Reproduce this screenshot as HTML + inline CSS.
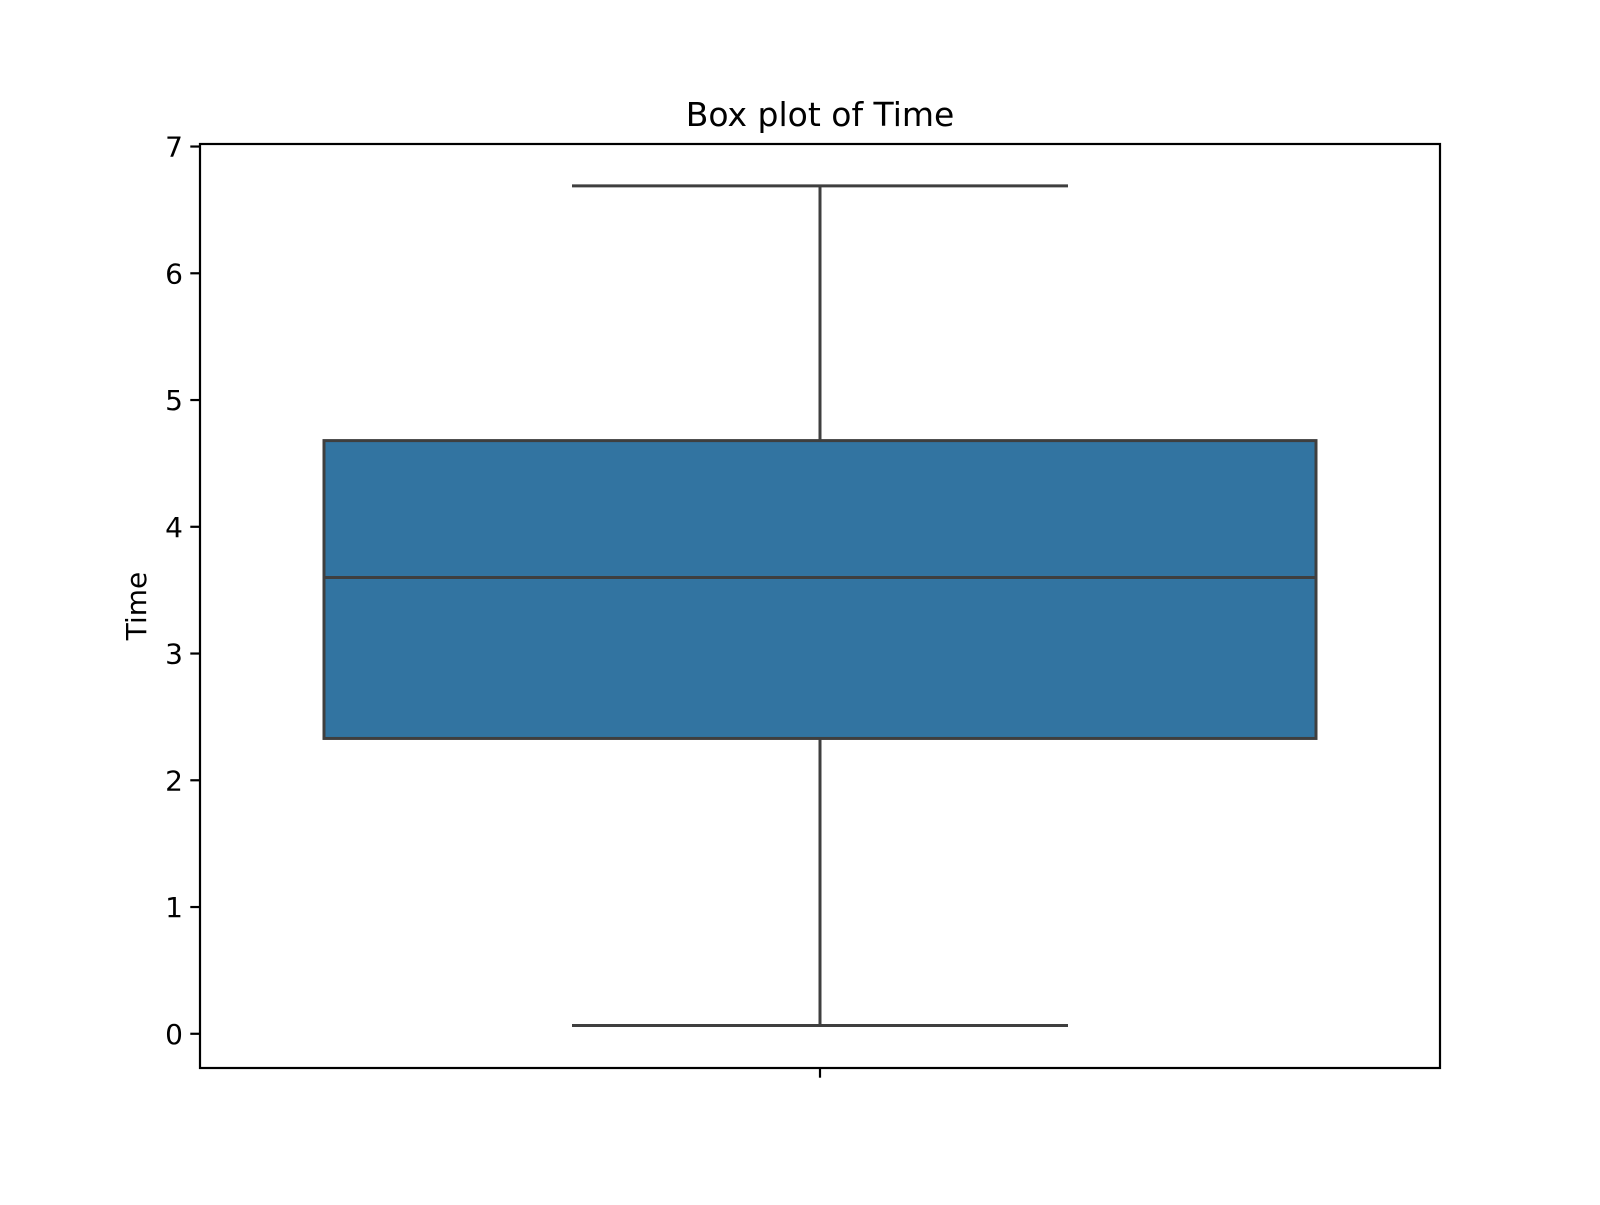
<!DOCTYPE html>
<html><head><meta charset="utf-8"><style>
html,body{margin:0;padding:0;background:#fff;}
svg text{font-family:"DejaVu Sans","Liberation Sans",sans-serif;fill:#000;}
</style></head><body>
<svg id="chart" width="1600" height="1200" viewBox="0 0 1600 1200" xmlns="http://www.w3.org/2000/svg">
<rect x="0" y="0" width="1600" height="1200" fill="#fff"/>
<text x="820" y="126" font-size="33" text-anchor="middle">Box plot of Time</text>
<text transform="translate(146,606) rotate(-90)" font-size="28" text-anchor="middle">Time</text>
<g id="ticks"></g>
<g id="marks"></g>
<rect x="200" y="144" width="1240" height="924" fill="none" stroke="#000" stroke-width="2.2"/>
</svg>
<script>
const yTicks = [0,1,2,3,4,5,6,7];
const boxStats = [{ whiskerLow: 0.065, q1: 2.33, median: 3.6, q3: 4.68, whiskerHigh: 6.69 }];
const categories = [""];

const L=200,R=1440,T=144,B=1068, yMin=-0.27, yMax=7.02;
const ys=v=>B-(v-yMin)/(yMax-yMin)*(B-T);
const xs=v=>L+(v+0.5)/1*(R-L);
const NS="http://www.w3.org/2000/svg";
function mk(tag,attrs,parent){const e=document.createElementNS(NS,tag);for(const k in attrs)e.setAttribute(k,attrs[k]);parent.appendChild(e);return e;}
const tg=document.getElementById('ticks'), mg=document.getElementById('marks');
yTicks.forEach(t=>{
  const y=ys(t);
  const l=mk('line',{x1:L-9.7,x2:L,y1:y,y2:y,stroke:'#000','stroke-width':2.2},tg);
  
  
  const tx=mk('text',{x:L-17,y:y+10,'font-size':28,'text-anchor':'end'},tg);
  tx.textContent=String(t);
  
  
});
categories.forEach((c,i)=>{
  const x=xs(i);
  const l=mk('line',{x1:x,x2:x,y1:B,y2:B+9.7,stroke:'#000','stroke-width':2.2},tg);
  
  
  const s=boxStats[i], col='#3f3f3f', hw=0.4*(R-L), cw=0.2*(R-L);
  const w1=mk('line',{x1:x,x2:x,y1:ys(s.q3),y2:ys(s.whiskerHigh),stroke:col,'stroke-width':3},mg);
  
  
  const w2=mk('line',{x1:x,x2:x,y1:ys(s.q1),y2:ys(s.whiskerLow),stroke:col,'stroke-width':3},mg);
  
  
  const c1=mk('line',{x1:x-cw,x2:x+cw,y1:ys(s.whiskerHigh),y2:ys(s.whiskerHigh),stroke:col,'stroke-width':3},mg);
  
  
  const c2=mk('line',{x1:x-cw,x2:x+cw,y1:ys(s.whiskerLow),y2:ys(s.whiskerLow),stroke:col,'stroke-width':3},mg);
  
  
  const bx=mk('rect',{x:x-hw,y:ys(s.q3),width:2*hw,height:ys(s.q1)-ys(s.q3),fill:'#3274a1',stroke:col,'stroke-width':3},mg);
  
  
  const md=mk('line',{x1:x-hw,x2:x+hw,y1:ys(s.median),y2:ys(s.median),stroke:col,'stroke-width':3},mg);
  
  
});
</script>
</body></html>
